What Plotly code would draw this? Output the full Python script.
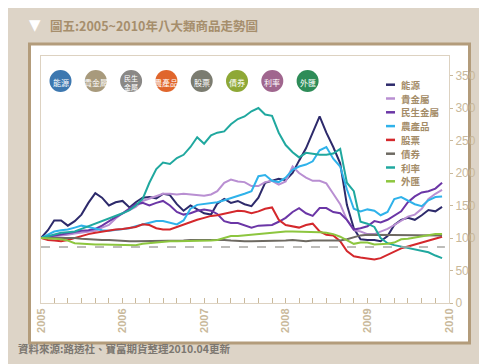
import pandas as pd
import plotly.graph_objects as go

# ---------------- data ----------------
dates = pd.date_range("2005-01-01", periods=60, freq="MS")

series_names = ["能源", "貴金屬", "民生金屬", "農產品", "股票", "債券", "利率", "外匯"]
series_colors = ["#2d2a6b", "#b98fd2", "#6b36a6", "#2fb2ea", "#d4282c", "#6e6a62", "#20a89f", "#8dc63f"]

energy = [100, 112, 127, 127, 119, 126, 136, 154, 169, 162, 150, 155, 157, 147, 155, 162, 163, 161, 168, 166,
          152, 142, 150, 144, 138, 136, 153, 160, 154, 157, 152, 149, 162, 185, 188, 191, 189, 200, 219, 238,
          262, 287, 262, 240, 215, 151, 115, 98, 97, 97, 95, 103, 120, 128, 131, 128, 135, 143, 141, 148]
precious = [100, 101, 103, 104, 105, 107, 108, 110, 111, 116, 120, 130, 138, 143, 148, 157, 161, 164, 168, 168,
            167, 168, 167, 166, 165, 167, 172, 185, 190, 187, 186, 180, 180, 186, 188, 182, 187, 210, 200, 193,
            188, 188, 184, 168, 152, 128, 112, 110, 106, 106, 110, 114, 120, 127, 133, 136, 145, 160, 168, 174]
base_metal = [100, 102, 104, 105, 107, 110, 111, 112, 114, 119, 126, 132, 138, 146, 152, 154, 150, 154, 157, 150,
              140, 136, 138, 142, 144, 142, 137, 126, 123, 123, 120, 116, 119, 120, 120, 125, 131, 140, 146, 138,
              134, 146, 146, 140, 138, 128, 113, 115, 118, 126, 124, 128, 134, 141, 155, 164, 170, 172, 176, 185]
agri = [100, 105, 110, 112, 113, 116, 119, 117, 114, 112, 111, 112, 113, 115, 118, 121, 124, 126, 126, 123,
        121, 127, 145, 151, 152, 153, 155, 158, 161, 164, 168, 172, 195, 197, 188, 186, 193, 205, 210, 213,
        218, 235, 240, 222, 210, 175, 145, 141, 144, 142, 135, 140, 160, 163, 158, 152, 149, 158, 163, 164]
stocks = [100, 97, 96, 95, 97, 100, 104, 106, 108, 110, 112, 113, 114, 115, 117, 121, 120, 115, 113, 113,
          117, 121, 125, 128, 131, 134, 135, 137, 139, 142, 141, 138, 141, 145, 147, 128, 120, 118, 116, 120,
          122, 110, 105, 104, 95, 80, 72, 70, 69, 67, 69, 74, 80, 84, 87, 90, 94, 97, 100, 102]
bonds = [100, 100, 100, 101, 100, 100, 99, 98, 98, 97, 97, 96, 96, 95, 95, 95, 95, 95, 95, 96,
         96, 96, 97, 97, 97, 97, 98, 97, 96, 95, 95, 95, 95, 95, 95, 95, 96, 97, 96, 95,
         96, 96, 96, 96, 96, 98, 101, 104, 105, 105, 105, 105, 105, 105, 105, 105, 104, 104, 104, 104]
rates = [100, 103, 106, 108, 109, 110, 114, 118, 122, 126, 130, 134, 138, 143, 150, 160, 185, 206, 216, 214,
         223, 228, 240, 255, 245, 258, 262, 264, 275, 283, 287, 295, 300, 290, 288, 262, 243, 232, 224, 231,
         229, 228, 228, 230, 237, 185, 172, 125, 122, 117, 100, 92, 89, 87, 85, 83, 80, 78, 73, 69]
fx = [100, 100, 99, 98, 96, 92, 91, 90, 90, 90, 90, 90, 90, 90, 89, 91, 92, 94, 94, 95,
      95, 95, 95, 96, 96, 96, 97, 100, 103, 103, 104, 105, 106, 107, 108, 110, 110, 110, 110, 110,
      110, 109, 108, 106, 102, 96, 91, 93, 93, 90, 90, 91, 93, 98, 99, 101, 103, 105, 106, 106]

series_values = [energy, precious, base_metal, agri, stocks, bonds, rates, fx]

ref_level = 86
y_ticks = [0, 50, 100, 150, 200, 250, 300, 350]
year_ticks = ["2005-01-01", "2006-01-01", "2007-01-01", "2008-01-01", "2009-01-01", "2010-01-01"]
year_labels = ["2005", "2006", "2007", "2008", "2009", "2010"]

icon_labels = ["能源", "貴金屬", "民生<br>金屬", "農產品", "股票", "債券", "利率", "外匯"]
icon_colors = ["#3d78b0", "#a89a7c", "#8a8886", "#e0662c", "#7b7c70", "#8ea836", "#a0668e", "#2e8c58"]

title_text = "圖五:2005~2010年八大類商品走勢圖"
source_text = "資料來源:路透社、寶富期貨整理2010.04更新"

# ---------------- layout geometry ----------------
W, H = 487, 364
L, R, T, B = 33, 441, 48, 295
PW, PH = R - L, B - T


def px(xp):
    return (xp - L) / PW


def py(yp):
    return (B - yp) / PH


fig = go.Figure()
for name, color, vals in zip(series_names, series_colors, series_values):
    fig.add_trace(go.Scatter(x=dates, y=vals, name=name, mode="lines",
                             line=dict(color=color, width=2), showlegend=False))

shapes = []
annotations = []

# white panel with brown frame
shapes.append(dict(type="rect", xref="paper", yref="paper", layer="below",
                   x0=px(21.5), x1=px(461.5), y0=py(335), y1=py(36),
                   fillcolor="white", line=dict(color="#b39c7b", width=3)))

# dashed reference line
shapes.append(dict(type="line", xref="paper", yref="y", x0=0, x1=0.99, y0=ref_level, y1=ref_level,
                   line=dict(color="#a8a6a2", width=1.5, dash="dash")))

# icon circles
icon_x0, icon_dx, icon_y, icon_r = 52.5, 35.3, 73, 11
for i, (lab, col) in enumerate(zip(icon_labels, icon_colors)):
    cx = icon_x0 + i * icon_dx
    shapes.append(dict(type="circle", xref="paper", yref="paper",
                       x0=px(cx - icon_r), x1=px(cx + icon_r), y0=py(icon_y + icon_r), y1=py(icon_y - icon_r),
                       fillcolor=col, line=dict(color=col, width=0)))
    annotations.append(dict(xref="paper", yref="paper", x=px(cx), y=py(icon_y + 1), text=lab,
                            showarrow=False, xanchor="center", yanchor="middle",
                            font=dict(family="Noto Sans CJK TC", size=7 if "<br>" in lab else 8, color="white")))

# custom legend
leg_y0, leg_dy = 76.7, 13.8
for i, (name, color) in enumerate(zip(series_names, series_colors)):
    yy = leg_y0 + i * leg_dy
    shapes.append(dict(type="line", xref="paper", yref="paper", x0=px(378), x1=px(387), y0=py(yy), y1=py(yy),
                       line=dict(color=color, width=2.5)))
    annotations.append(dict(xref="paper", yref="paper", x=px(391), y=py(yy), text=name, showarrow=False,
                            xanchor="left", yanchor="middle",
                            font=dict(family="Noto Sans CJK TC", size=9.5, color="#a48c68", weight="bold")))

# title
annotations.append(dict(xref="paper", yref="paper", x=px(26.5), y=py(17.5), text="▼", showarrow=False,
                        xanchor="center", yanchor="middle", font=dict(family="DejaVu Sans", size=15, color="white")))
annotations.append(dict(xref="paper", yref="paper", x=px(40), y=py(17), text=title_text, showarrow=False,
                        xanchor="left", yanchor="middle",
                        font=dict(family="Noto Sans CJK TC", size=12.5, color="#a68e6c", weight="bold")))
# source
annotations.append(dict(xref="paper", yref="paper", x=px(8), y=py(340), text=source_text, showarrow=False,
                        xanchor="left", yanchor="middle",
                        font=dict(family="Noto Sans CJK TC", size=10.5, color="#7c7770", weight="bold")))

tan = "#c9b99b"
axis_line = "#ddd2c1"

fig.update_layout(
    width=W, height=H,
    margin=dict(l=L, r=W - R, t=T, b=H - B, pad=0),
    paper_bgcolor="#ddd4c7",
    plot_bgcolor="rgba(0,0,0,0)",
    shapes=shapes,
    annotations=annotations,
    showlegend=False,
    xaxis=dict(type="date", range=["2005-01-01", "2010-01-01"],
               tickvals=year_ticks, ticktext=year_labels, tickangle=-90,
               ticks="inside", ticklen=5, tickcolor=tan, tickwidth=1,
               minor=dict(dtick="M2", ticks="inside", ticklen=5, tickcolor=tan, showgrid=False),
               showgrid=False, zeroline=False, showline=True, linecolor=axis_line, mirror=True,
               tickfont=dict(family="Liberation Sans", size=11, color=tan, weight="bold")),
    yaxis=dict(range=[0, 380], side="right", tickvals=y_ticks,
               ticks="outside", ticklen=3, tickcolor=tan,
               showgrid=False, zeroline=False, showline=True, linecolor=axis_line, mirror=True,
               tickfont=dict(family="Liberation Sans", size=12, color=tan)),
)

fig.write_html("out.html")
